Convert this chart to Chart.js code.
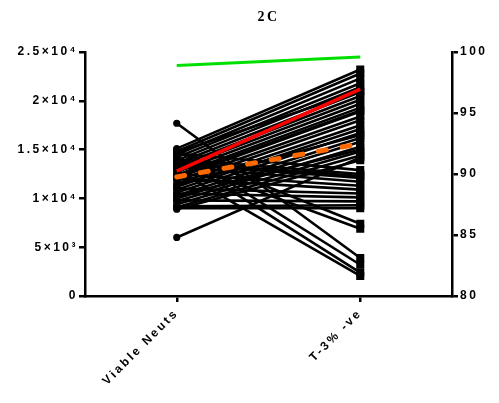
<!DOCTYPE html>
<html>
<head>
<meta charset="utf-8">
<script src="https://cdn.jsdelivr.net/npm/chart.js@4/dist/chart.umd.min.js"></script>
<style>
  html, body { margin: 0; padding: 0; background: #fff; }
  #wrap { width: 499px; height: 403px; }
</style>
</head>
<body>
<div id="wrap"><canvas id="c" width="499" height="403"></canvas></div>
<script>
// Categories along the x axis
const categories = ['Viable Neuts', 'T-3% -ve'];

// Paired counts per donor: [Viable Neuts, T-3% -ve]
const viableNeuts = [17700, 6000, 15100, 14800, 14500, 14200, 13900, 13600, 13300, 13000,
  12700, 12400, 12100, 11800, 11500, 11200, 10900, 10600, 10300, 10000,
  9700, 9400, 9100, 8900, 14600, 14000, 13500, 13200, 12500, 12000,
  11000, 10500, 9800, 9200, 9000, 14900, 13800, 15000, 14300, 12900,
  14700, 12200, 11400, 10200, 13700];
const t3Negative = [3900, 14200, 23200, 22800, 22300, 21800, 21400, 20900, 20500, 20100,
  19700, 19300, 18900, 18400, 18000, 17500, 17100, 16700, 16200, 15800,
  15300, 14800, 14400, 13900, 12900, 12500, 12100, 11700, 11300, 10900,
  10500, 10100, 9700, 9300, 9000, 7400, 6900, 3200, 2400, 2050,
  21000, 19000, 16500, 15000, 12300];

// Summary lines
const redLine = [12800, 21200];
const orangeLine = [12200, 15600];
const greenLine = [98.9, 99.6];   // right axis (%)

// Tick labels
const leftTickLabels = ['0', '5×10³', '1×10⁴', '1.5×10⁴', '2×10⁴', '2.5×10⁴'];
const rightTickLabels = ['80', '85', '90', '95', '100'];

const datasets = [
  { data: greenLine, yAxisID: 'y1', borderColor: '#00e000', borderWidth: 3, pointRadius: 0 },
  { data: redLine, yAxisID: 'y', borderColor: '#ff0000', borderWidth: 3.5, pointRadius: 0 },
  { data: orangeLine, yAxisID: 'y', borderColor: '#ff6a00', borderWidth: 5,
    borderDash: [8, 16], borderCapStyle: 'round', pointRadius: 0 }
];
viableNeuts.forEach((v, i) => {
  datasets.push({
    data: [v, t3Negative[i]],
    yAxisID: 'y',
    borderColor: '#000',
    borderWidth: 2.6,
    backgroundColor: '#000',
    pointBorderColor: '#000',
    pointBackgroundColor: '#000',
    pointStyle: ['circle', 'rect'],
    pointRadius: [3.6, 5.7],
    pointBorderWidth: 0,
    pointHoverRadius: 0
  });
});

// Wider character spacing for axis text
const spacing = {
  id: 'spacing',
  beforeLayout(chart) { chart.ctx.letterSpacing = '2.5px'; },
  beforeDraw(chart) { chart.ctx.letterSpacing = '2.5px'; }
};

const tickFont = { family: '"Liberation Sans", Arial, sans-serif', size: 12, weight: 'bold' };

new Chart(document.getElementById('c'), {
  type: 'line',
  data: { labels: categories, datasets },
  plugins: [spacing],
  options: {
    responsive: false,
    animation: false,
    layout: { padding: { left: 0, right: 0, top: 0, bottom: 0 } },
    plugins: {
      legend: { display: false },
      tooltip: { enabled: false },
      title: {
        display: true,
        text: '2C',
        fullSize: false,
        color: '#000',
        font: { family: '"Liberation Serif", "Times New Roman", serif', size: 14, weight: 'bold' },
        padding: { top: 9, bottom: 26.2 }
      }
    },
    scales: {
      x: {
        type: 'category',
        offset: true,
        grid: { display: true, offset: false, drawOnChartArea: false, drawTicks: true,
                tickLength: 6, color: '#000', lineWidth: 2.5 },
        border: { display: true, color: '#000', width: 2.5 },
        ticks: { color: '#000', font: tickFont, minRotation: 45, maxRotation: 45, padding: 4 },
        afterFit(s) { s.height = 107; }
      },
      y: {
        position: 'left',
        min: 0, max: 25000,
        grid: { display: true, drawOnChartArea: false, drawTicks: true,
                tickLength: 6, color: '#000', lineWidth: 2.5 },
        border: { display: true, color: '#000', width: 2.5 },
        ticks: {
          stepSize: 5000, color: '#000', font: tickFont, padding: 1,
          callback: (v, i) => leftTickLabels[i]
        },
        afterFit(s) { s.width = 85; }
      },
      y1: {
        position: 'right',
        min: 80, max: 100,
        grid: { display: true, drawOnChartArea: false, drawTicks: true,
                tickLength: 6, color: '#000', lineWidth: 2.5 },
        border: { display: true, color: '#000', width: 2.5 },
        ticks: {
          stepSize: 5, color: '#000', font: tickFont, padding: 2,
          callback: (v, i) => rightTickLabels[i]
        },
        afterFit(s) { s.width = 47; }
      }
    }
  }
});
</script>
</body>
</html>
